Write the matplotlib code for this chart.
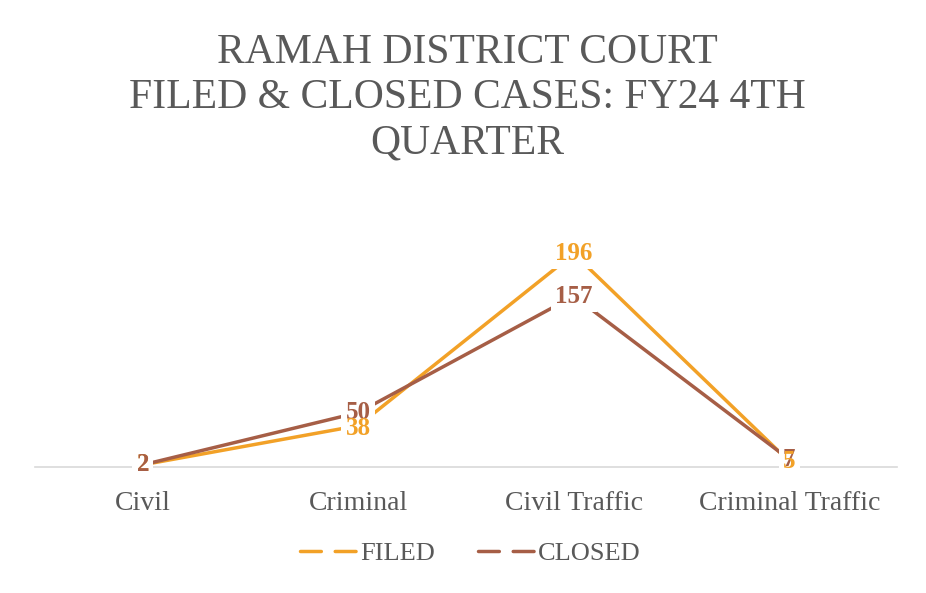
import matplotlib
matplotlib.use("Agg")
import matplotlib.pyplot as plt
from matplotlib.lines import Line2D

categories = ["Civil", "Criminal", "Civil Traffic", "Criminal Traffic"]
filed = [2, 38, 196, 5]
closed = [2, 50, 157, 7]

c_filed = "#F2A127"
c_closed = "#A65E46"
grey = "#595959"

plt.rcParams['font.family'] = ['Liberation Serif', 'DejaVu Serif']

fig = plt.figure(figsize=(9.26, 5.93), dpi=100)
ax = fig.add_axes([0.0378, 0.2125, 0.931, 0.4587])

x = list(range(len(categories)))
ax.plot(x, filed, color=c_filed, lw=2.5, solid_capstyle='round', zorder=2)
ax.plot(x, closed, color=c_closed, lw=2.5, solid_capstyle='round', zorder=3)

# white boxes behind every label first, so the lines stop short of them
lab_kw = dict(fontsize=18, fontweight='bold', ha='center', va='center')
for xi, v in list(zip(x, closed)) + list(zip(x, filed)):
    ax.text(xi, v, str(v), color='white', zorder=4,
            bbox=dict(facecolor='white', edgecolor='none', pad=3), **lab_kw)
for xi, v in zip(x, closed):
    ax.text(xi, v, str(v), color=c_closed, zorder=5, **lab_kw)
for xi, v in zip(x, filed):
    ax.text(xi, v + (-3 if v == 38 else 0), str(v), color=c_filed, zorder=5 if v != 2 else 4.5, **lab_kw)

ax.set_xlim(-0.5, 3.5)
ax.set_ylim(0, 250)
ax.set_xticks(x)
ax.set_xticklabels(categories, fontsize=20, color=grey)
ax.tick_params(axis='x', length=0, pad=17)
ax.set_yticks([])
for s in ['top', 'right', 'left']:
    ax.spines[s].set_visible(False)
ax.spines['bottom'].set_color('#D9D9D9')
ax.spines['bottom'].set_linewidth(1.2)
ax.spines['bottom'].set_zorder(1)

fig.text(0.505, 0.835, "RAMAH DISTRICT COURT\nFILED & CLOSED CASES: FY24 4TH\nQUARTER",
         ha='center', va='center', fontsize=30, color=grey, linespacing=1.24)

handles = [Line2D([], [], color=c_filed, lw=2.5, dashes=(6, 4), dash_capstyle='round'),
           Line2D([], [], color=c_closed, lw=2.5, dashes=(6, 4), dash_capstyle='round')]
leg = fig.legend(handles, ["FILED", "CLOSED"], loc='center', bbox_to_anchor=(0.508, 0.067),
                 ncol=2, frameon=False, fontsize=19, handlelength=2.2, handletextpad=0.1,
                 columnspacing=1.6)
for t in leg.get_texts():
    t.set_color(grey)

fig.savefig("out.png", dpi=100)
